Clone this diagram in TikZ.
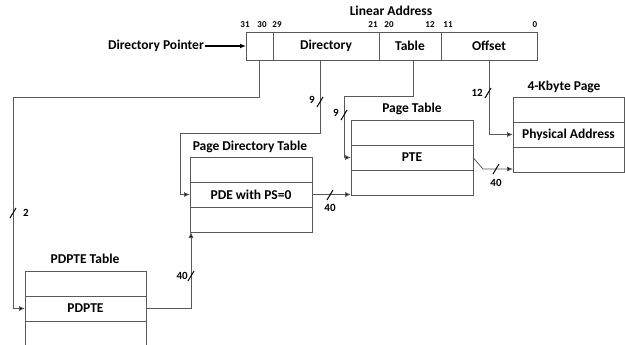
\documentclass[tikz,border=0pt]{standalone}
\usepackage{fontspec}
\setmainfont{Carlito}
\usetikzlibrary{positioning, arrows.meta, calc}
\definecolor{linegray}{gray}{0.35}
\tikzset{
    % Basic node styles
    field/.style={rectangle, draw=linegray, line width=0.8pt, outer sep=0pt, inner sep=0pt,
                  minimum height=28pt, font=\fontsize{13.5}{14}\selectfont\bfseries},
    row/.style={rectangle, draw=linegray, line width=0.8pt, outer sep=0pt, inner sep=0pt,
                minimum height=25pt, font=\fontsize{13.5}{14}\selectfont\bfseries},
    title/.style={font=\fontsize{13.5}{14}\selectfont\bfseries, inner sep=1pt},
    bit/.style={font=\fontsize{9}{10}\selectfont\bfseries, inner sep=0pt},
    num/.style={font=\fontsize{11}{12}\selectfont\bfseries, inner sep=1pt},
    % Arrow styles
    arrow/.style={draw=linegray, line width=0.8pt, -{Latex[length=6pt, width=5pt, fill=black]}},
    slash/.style={draw=black, line width=1pt},
}
\begin{document}
\begin{tikzpicture}[x=1pt, y=-1pt]
    \useasboundingbox[fill=white] (0,0) rectangle (625,345);

    % Linear address
    \node[title] (lin) at (391,11) {Linear Address};
    \node[field, minimum width=27pt, anchor=north west] (f31) at (246,32) {};
    \node[field, minimum width=106pt, right=0pt of f31] (dir) {Directory};
    \node[field, minimum width=62pt, right=0pt of dir] (tbl) {Table};
    \node[field, minimum width=96pt, right=0pt of tbl] (ofs) {Offset};
    \foreach \x/\b in {245/31, 262/30, 277/29, 373/21, 389/20, 430/12, 448/11, 535/0}
        \node[bit] (b\b) at (\x,25) {\b};
    \node[title, anchor=east] (dptr) at (205,46) {Directory Pointer};

    % Tables
    \node[title] (pdptet) at (85,259) {PDPTE Table};
    \node[row, minimum width=121pt, anchor=north west] (pdpte1) at (25,271) {};
    \node[row, minimum width=121pt, below=0pt of pdpte1] (pdpte2) {PDPTE};
    \node[row, minimum width=121pt, below=0pt of pdpte2, minimum height=30pt] (pdpte3) {};

    \node[title] (pdtt) at (250,147) {Page Directory Table};
    \node[row, minimum width=122pt, anchor=north west] (pdt1) at (190,157) {};
    \node[row, minimum width=122pt, below=0pt of pdt1] (pdt2) {PDE with PS=0};
    \node[row, minimum width=122pt, below=0pt of pdt2] (pdt3) {};

    \node[title] (ptt) at (412,109) {Page Table};
    \node[row, minimum width=122pt, anchor=north west] (pt1) at (351,120) {};
    \node[row, minimum width=122pt, below=0pt of pt1] (pt2) {PTE};
    \node[row, minimum width=122pt, below=0pt of pt2] (pt3) {};

    \node[title] (paget) at (564,87) {4-Kbyte Page};
    \node[row, minimum width=111pt, anchor=north west] (page1) at (513,97) {};
    \node[row, minimum width=111pt, below=0pt of page1] (page2) {Physical Address};
    \node[row, minimum width=111pt, below=0pt of page2] (page3) {};

    % Arrows
    \coordinate (c1) at (13,97);
    \coordinate (c2) at (180,133);
    \coordinate (c3) at (344,96);
    \coordinate (c4) at (483,169);
    \draw[arrow, draw=black, line width=1.2pt] (dptr.east) -- (f31.west);
    \draw[arrow] (f31.south) |- (c1) |- (pdpte2.west);
    \draw[arrow] ([xshift=-6pt]dir.south) |- (c2) |- (pdt2.west);
    \draw[arrow] ([xshift=3pt]tbl.south) |- (c3) |- (pt2.west);
    \draw[arrow] (ofs.south) |- (page2.west);
    \draw[arrow] (pdt2.east) -- (pdt2.east -| pt3.west);
    \draw[arrow] (pt2.east) -- (c4) -- (c4 -| page3.west);
    \draw[arrow] (pdpte2.east) -| ([xshift=1pt]pdt3.south west);

    % Labels
    \foreach \x/\y in {13/213, 320/102, 344/115, 488/93, 330/195, 496/169, 191/276}
        \draw[slash] (\x-3,\y+5) -- (\x+3,\y-5);
    \node[num, anchor=west] (n2) at (22,213) {2};
    \node[num, anchor=east] (n9a) at (316,100) {9};
    \node[num, anchor=east] (n9b) at (340,113) {9};
    \node[num, anchor=east] (n12) at (484,93) {12};
    \node[num] (n40a) at (330,208) {40};
    \node[num] (n40b) at (496,183) {40};
    \node[num, anchor=east] (n40c) at (189,276) {40};
\end{tikzpicture}
\end{document}
